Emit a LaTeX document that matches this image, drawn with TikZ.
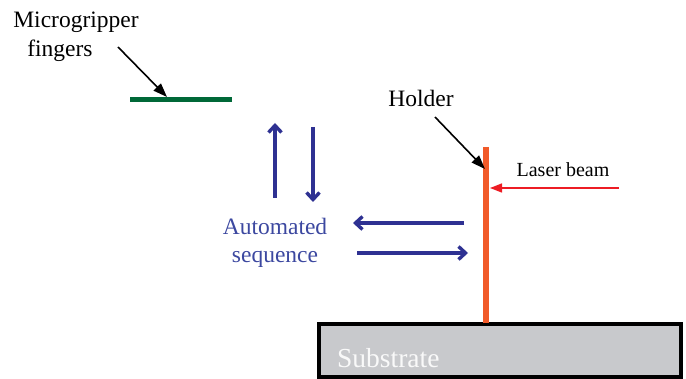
\documentclass[tikz,border=0pt]{standalone}
\usepackage{fontspec}
\setmainfont{Liberation Serif}
\usetikzlibrary{arrows.meta}
\definecolor{gfing}{RGB}{0,104,56}
\definecolor{holdc}{RGB}{241,90,41}
\definecolor{seqblue}{RGB}{46,49,146}
\definecolor{seqtext}{RGB}{60,72,160}
\definecolor{laserred}{RGB}{237,28,36}
\definecolor{subgray}{RGB}{200,201,204}
\begin{document}
\begin{tikzpicture}[x=1pt,y=-1pt,
  lbl/.style={font=\fontsize{23.5}{28}\selectfont, anchor=base, inner sep=0pt},
  ptr/.style={draw=black, line width=1.6pt, -{Triangle[length=14pt,width=10pt]}},
  seqarrow/.style={draw=seqblue, line width=3.4pt, -{Straight Barb[length=7pt,width=13pt,line width=3.4pt]}},
]
\useasboundingbox (0,0) rectangle (686,379);
% substrate
\node[draw=black, line width=4pt, fill=subgray, minimum width=362pt, minimum height=53pt, inner sep=0pt] (sub) at (500,351) {};
\node[font=\fontsize{27.5}{30}\selectfont, text=white!95!gray, anchor=base west, inner sep=0pt] (subtxt) at (337,368) {Substrate};
% holder
\coordinate (htop) at (486,147);
\coordinate (hbot) at (486,323);
\draw[holdc, line width=6pt] (htop) -- (hbot);
\coordinate (htip) at (485,169);
\node[lbl] (holder) at (421,107) {Holder};
\coordinate (hstart) at (435,117);
\draw[ptr] (hstart) -- (htip);
% laser
\node[font=\fontsize{20}{24}\selectfont, anchor=base, inner sep=0pt] (laser) at (563,177) {Laser beam};
\coordinate (lstart) at (619,188);
\coordinate (lend) at (490,188);
\draw[laserred, line width=1.4pt, -{Triangle[length=12pt,width=9pt]}] (lstart) -- (lend);
% fingers
\coordinate (fl) at (130,100);
\coordinate (fr) at (232,100);
\draw[gfing, line width=5pt] (fl) -- (fr);
\node[lbl] (micro) at (76,28) {Microgripper};
\node[lbl] (fing) at (60,57) {fingers};
\coordinate (fstart) at (118,47);
\coordinate (ftip) at (167,97);
\draw[ptr] (fstart) -- (ftip);
% automated sequence
\node[lbl, text=seqtext] (auto) at (275,235) {Automated};
\node[lbl, text=seqtext] (seq) at (275,263) {sequence};
\coordinate (u1) at (275,198); \coordinate (u2) at (275,123);
\coordinate (d1) at (313,127); \coordinate (d2) at (313,202);
\coordinate (l1) at (464,223); \coordinate (l2) at (353,223);
\coordinate (r1) at (357,253); \coordinate (r2) at (468,253);
\draw[seqarrow] (u1) -- (u2);
\draw[seqarrow] (d1) -- (d2);
\draw[seqarrow] (l1) -- (l2);
\draw[seqarrow] (r1) -- (r2);
\end{tikzpicture}
\end{document}
